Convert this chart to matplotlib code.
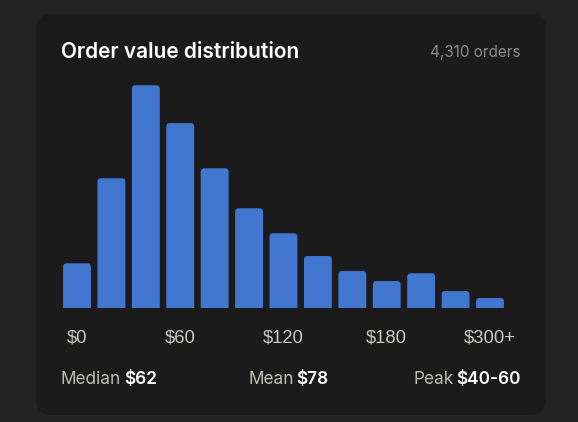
import matplotlib
matplotlib.use("Agg")
import matplotlib.pyplot as plt
from matplotlib.patches import FancyBboxPatch

# Data: order counts per $20 bucket (13 buckets, last one is $240+/$300+ tail)
bins = ["$0", "$20", "$40", "$60", "$80", "$100", "$120", "$140", "$160",
        "$180", "$200", "$240", "$300+"]
counts = [180, 520, 892, 741, 560, 400, 300, 209, 149, 109, 140, 69, 41]
tick_pos = [0, 3, 6, 9, 12]
tick_labels = ["$0", "$60", "$120", "$180", "$300+"]
stats = [("Median", "$62"), ("Mean", "$78"), ("Peak", "$40-60")]
total_label = "4,310 orders"

W, H = 578, 422
OUTER = "#232323"
CARD = "#1b1b1b"
BAR = "#4277cf"

fig = plt.figure(figsize=(W / 100, H / 100), dpi=100, facecolor=OUTER)

# card background
card = FancyBboxPatch((36 / W, 1 - 415 / H), (546 - 36) / W, (415 - 14) / H,
                      boxstyle="round,pad=0,rounding_size=0.028",
                      transform=fig.transFigure, facecolor=CARD, edgecolor="none",
                      mutation_aspect=W / H, zorder=-10)
fig.patches.append(card)

# axes placed in pixels
left, right, bottom, top = 59.8, 507.2, 308.3, 80
ax = fig.add_axes([left / W, 1 - bottom / H, (right - left) / W, (bottom - top) / H])
ax.set_zorder(5)
ax.set_facecolor("none")
ax.set_xlim(-0.5, len(counts) - 0.5)
ymax = max(counts) * (bottom - top) / 223.0
ax.set_ylim(0, ymax)
for s in ax.spines.values():
    s.set_visible(False)
ax.set_yticks([])
ax.set_xticks(tick_pos)
ax.set_xticklabels(tick_labels, fontfamily="Liberation Sans", fontsize=13.3, color="#c9c9c1")
ax.tick_params(axis="x", length=0, pad=15)

# bars with rounded tops (bottom corners pushed below the axis and clipped)
bw = 0.81
px_per_unit_y = (bottom - top) / ymax
px_per_unit_x = (right - left) / len(counts)
r_px = 3.5
bars = ax.bar(range(len(counts)), counts, width=bw, color=BAR)
for b in bars:
    b.set_visible(False)
    x0 = b.get_x()
    h = b.get_height()
    ext = r_px / px_per_unit_y
    p = FancyBboxPatch((x0, -ext), bw, h + ext,
                       boxstyle="round,pad=0,rounding_size=%f" % (r_px / px_per_unit_x),
                       mutation_aspect=px_per_unit_x / px_per_unit_y,
                       facecolor=BAR, edgecolor="none", clip_on=True)
    ax.add_patch(p)
    p.set_clip_path(ax.patch)

# title and count
fig.text(61 / W, 1 - 52 / H, "Order value distribution", fontfamily="Inter",
         fontweight="semibold", fontsize=15, color="white", va="center", ha="left")
fig.text(521 / W, 1 - 52 / H, total_label, fontfamily="Inter", fontsize=11,
         color="#8b8b8b", va="center", ha="right")

# stats row
y_stat = 1 - 380 / H
lab_kw = dict(fontfamily="Inter", fontsize=12.4, color="#bdbdb3", va="center")
val_kw = dict(fontfamily="Inter", fontsize=12.4, fontweight="semibold", color="white", va="center")
gap = 2.2

t = fig.text(61 / W, y_stat, stats[0][0], ha="left", **lab_kw)
ax.annotate(stats[0][1], xy=(1, 0.5), xycoords=t, xytext=(gap, 0),
            textcoords="offset points", ha="left", annotation_clip=False, **val_kw)

t = fig.text(248 / W, y_stat, stats[1][0], ha="left", **lab_kw)
ax.annotate(stats[1][1], xy=(1, 0.5), xycoords=t, xytext=(gap, 0),
            textcoords="offset points", ha="left", annotation_clip=False, **val_kw)

v = fig.text(521 / W, y_stat, stats[2][1], ha="right", **val_kw)
ax.annotate(stats[2][0], xy=(0, 0.5), xycoords=v, xytext=(-gap, 0),
            textcoords="offset points", ha="right", annotation_clip=False, **lab_kw)

fig.savefig("out.png", dpi=100, facecolor=OUTER)
